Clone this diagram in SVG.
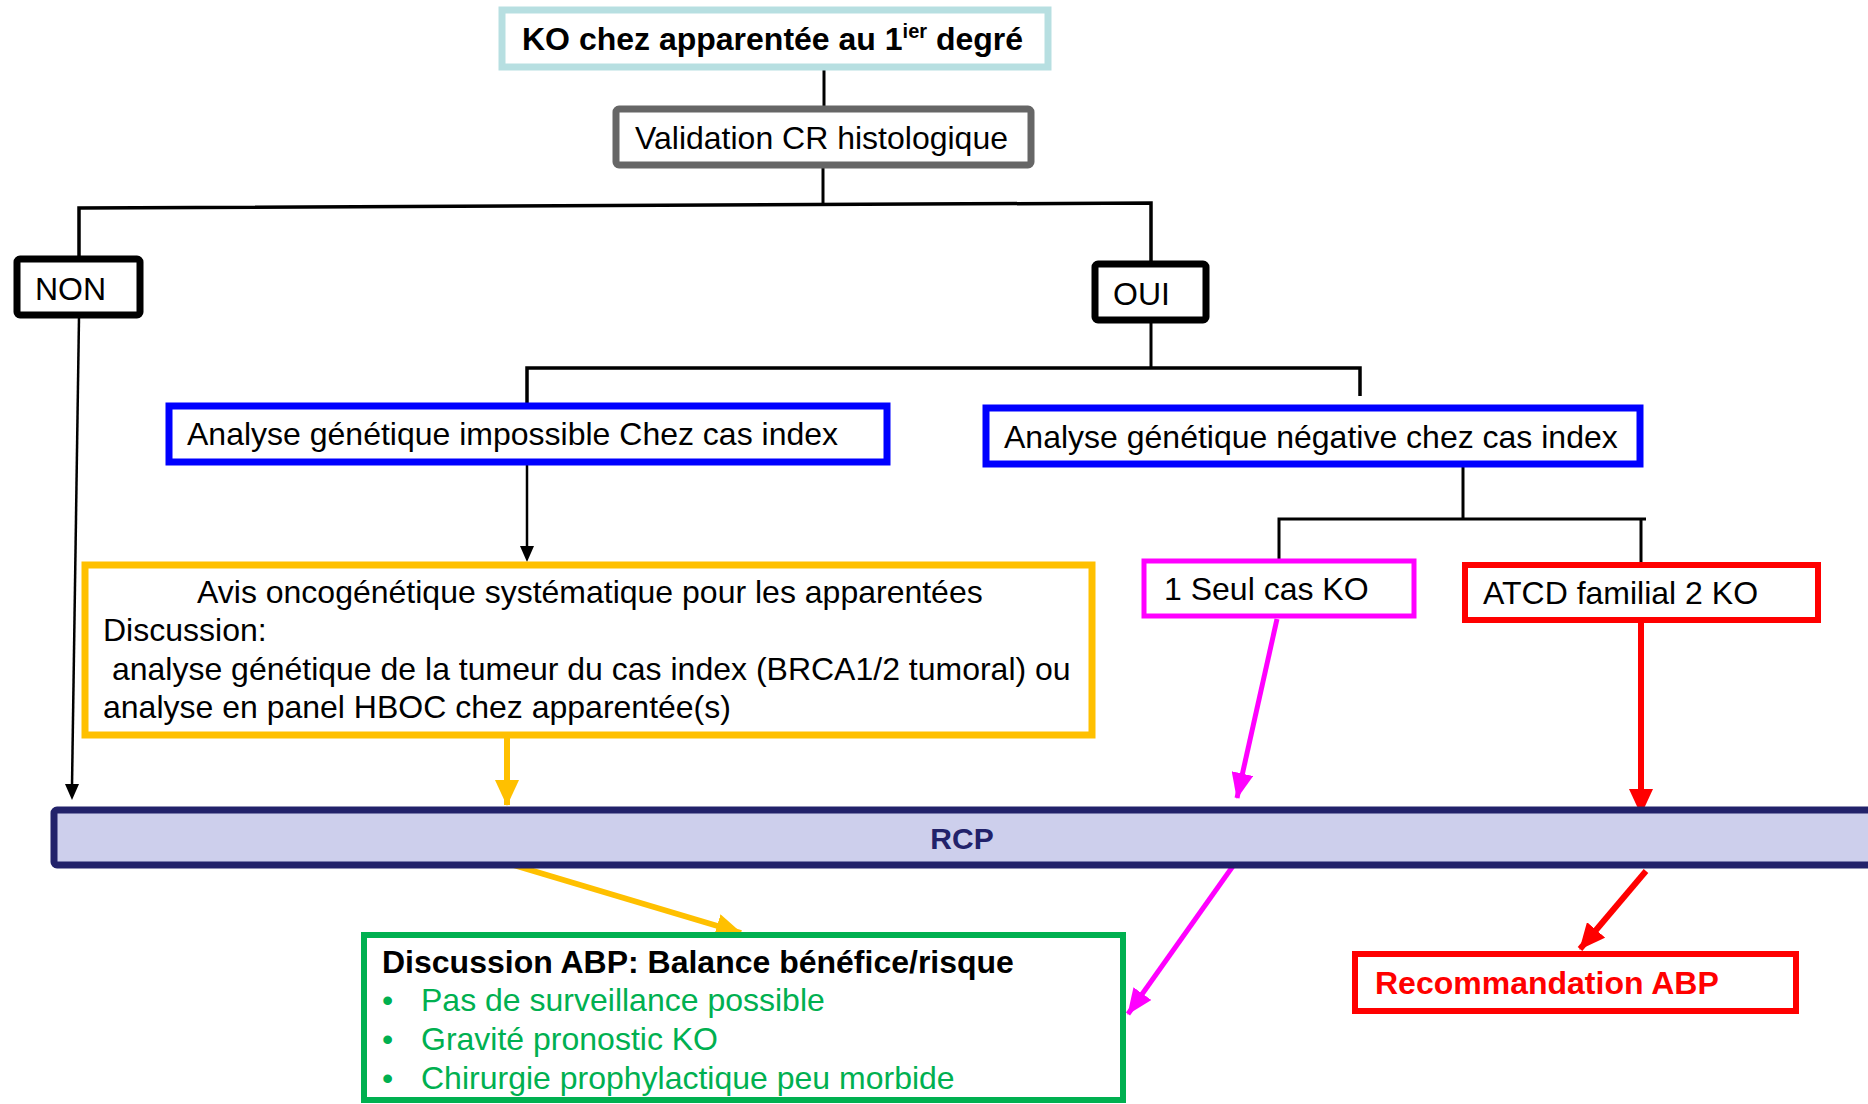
<svg xmlns="http://www.w3.org/2000/svg" width="1868" height="1104" viewBox="0 0 1868 1104">
<style>
text{font-family:"Liberation Sans",Arial,sans-serif;font-size:32px;fill:#000}
.b{font-weight:bold}
.g{fill:#00b050}
.box{fill:#fff}
.k{stroke:#000;stroke-width:3;fill:none}
</style>
<defs>
<marker id="ay" markerUnits="userSpaceOnUse" markerWidth="26" markerHeight="24" refX="25" refY="12" viewBox="0 0 26 24" orient="auto"><path d="M0,0 L26,12 L0,24 Z" fill="#ffc000"/></marker>
<marker id="am" markerUnits="userSpaceOnUse" markerWidth="26" markerHeight="22" refX="25" refY="11" viewBox="0 0 26 22" orient="auto"><path d="M0,0 L26,11 L0,22 Z" fill="#ff00ff"/></marker>
<marker id="ar" markerUnits="userSpaceOnUse" markerWidth="26" markerHeight="24" refX="25" refY="12" viewBox="0 0 26 24" orient="auto"><path d="M0,0 L26,12 L0,24 Z" fill="#ff0000"/></marker>
</defs>

<g id="connectors">
<line class="k" x1="824" y1="68" x2="824" y2="106"/>
<line class="k" x1="823" y1="167" x2="823" y2="206"/>
<polyline class="k" points="79,256 79,208 1151,203 1151,261" style="stroke-width:3.5"/>
<polyline class="k" points="527,403 527,368 1360,368 1360,396" style="stroke-width:3.5"/>
<line class="k" x1="1151" y1="322" x2="1151" y2="368"/>
<line x1="79" y1="317" x2="72" y2="786" stroke="#000" stroke-width="2.5"/>
<path d="M65,784 L79,784 L72,800 Z" fill="#000"/>
<line x1="527" y1="463" x2="527" y2="547" stroke="#000" stroke-width="2.5"/>
<path d="M520,546 L534,546 L527,562 Z" fill="#000"/>
<line x1="1463" y1="466" x2="1463" y2="519" stroke="#000" stroke-width="3"/>
<polyline class="k" points="1279,559 1279,519 1646,519"/>
<line class="k" x1="1641" y1="519" x2="1641" y2="563"/>
<line x1="507" y1="736" x2="507" y2="805" stroke="#ffc000" stroke-width="6" marker-end="url(#ay)"/>
<line x1="1277" y1="619" x2="1237" y2="798" stroke="#ff00ff" stroke-width="5" marker-end="url(#am)"/>
<line x1="1641" y1="619" x2="1641" y2="814" stroke="#ff0000" stroke-width="6" marker-end="url(#ar)"/>
<line x1="510" y1="864" x2="741" y2="933" stroke="#ffc000" stroke-width="6" marker-end="url(#ay)"/>
<line x1="1233" y1="866" x2="1128" y2="1014" stroke="#ff00ff" stroke-width="5" marker-end="url(#am)"/>
<line x1="1646" y1="871" x2="1580" y2="949" stroke="#ff0000" stroke-width="6" marker-end="url(#ar)"/>
</g>

<g id="n-top">
<rect x="502" y="10" width="546" height="57" class="box" stroke="#b7dfe1" stroke-width="7"/>
<text class="b" x="522" y="50">KO chez apparentée au 1<tspan font-size="20" dy="-12">ier</tspan><tspan dy="12"> degré</tspan></text>
</g>

<g id="n-validation">
<rect x="616" y="109" width="415" height="56" rx="3" class="box" stroke="#666" stroke-width="7"/>
<text x="635" y="149">Validation CR histologique</text>
</g>

<g id="n-non">
<rect x="17" y="259" width="123" height="56" rx="3" class="box" stroke="#000" stroke-width="7"/>
<text x="35" y="300">NON</text>
</g>

<g id="n-oui">
<rect x="1095" y="264" width="111" height="56" rx="3" class="box" stroke="#000" stroke-width="7"/>
<text x="1113" y="305">OUI</text>
</g>

<g id="n-impossible">
<rect x="169" y="406" width="718" height="56" class="box" stroke="#0000ff" stroke-width="7"/>
<text x="187" y="445">Analyse génétique impossible Chez cas index</text>
</g>

<g id="n-negative">
<rect x="986" y="408" width="654" height="56" class="box" stroke="#0000ff" stroke-width="7"/>
<text x="1004" y="448">Analyse génétique négative chez cas index</text>
</g>

<g id="n-avis">
<rect x="85" y="565" width="1007" height="170" class="box" stroke="#ffc000" stroke-width="7"/>
<text x="197" y="603">Avis oncogénétique systématique pour les apparentées</text>
<text x="103" y="641">Discussion:</text>
<text x="103" y="680" xml:space="preserve"> analyse génétique de la tumeur du cas index (BRCA1/2 tumoral) ou</text>
<text x="103" y="718">analyse en panel HBOC chez apparentée(s)</text>
</g>

<g id="n-seul">
<rect x="1144" y="561" width="270" height="55" class="box" stroke="#ff00ff" stroke-width="5"/>
<text x="1164" y="600">1 Seul cas KO</text>
</g>

<g id="n-atcd">
<rect x="1465" y="565" width="353" height="55" class="box" stroke="#ff0000" stroke-width="6"/>
<text x="1483" y="604">ATCD familial 2 KO</text>
</g>

<g id="n-rcp">
<rect x="54" y="810" width="1830" height="55" rx="3" fill="#cdcfec" stroke="#22226a" stroke-width="7"/>
<text class="b" x="962" y="849" text-anchor="middle" style="fill:#22226a;font-size:30px">RCP</text>
</g>

<g id="n-discussion">
<rect x="364" y="935" width="759" height="165" class="box" stroke="#00b050" stroke-width="6"/>
<text class="b" x="382" y="973">Discussion ABP: Balance bénéfice/risque</text>
<text class="g" x="382" y="1011">•</text><text class="g" x="421" y="1011">Pas de surveillance possible</text>
<text class="g" x="382" y="1050">•</text><text class="g" x="421" y="1050">Gravité pronostic KO</text>
<text class="g" x="382" y="1089">•</text><text class="g" x="421" y="1089">Chirurgie prophylactique peu morbide</text>
</g>

<g id="n-recommandation">
<rect x="1355" y="954" width="441" height="57" class="box" stroke="#ff0000" stroke-width="6"/>
<text class="b" x="1375" y="994" style="fill:#ff0000">Recommandation ABP</text>
</g>
</svg>
